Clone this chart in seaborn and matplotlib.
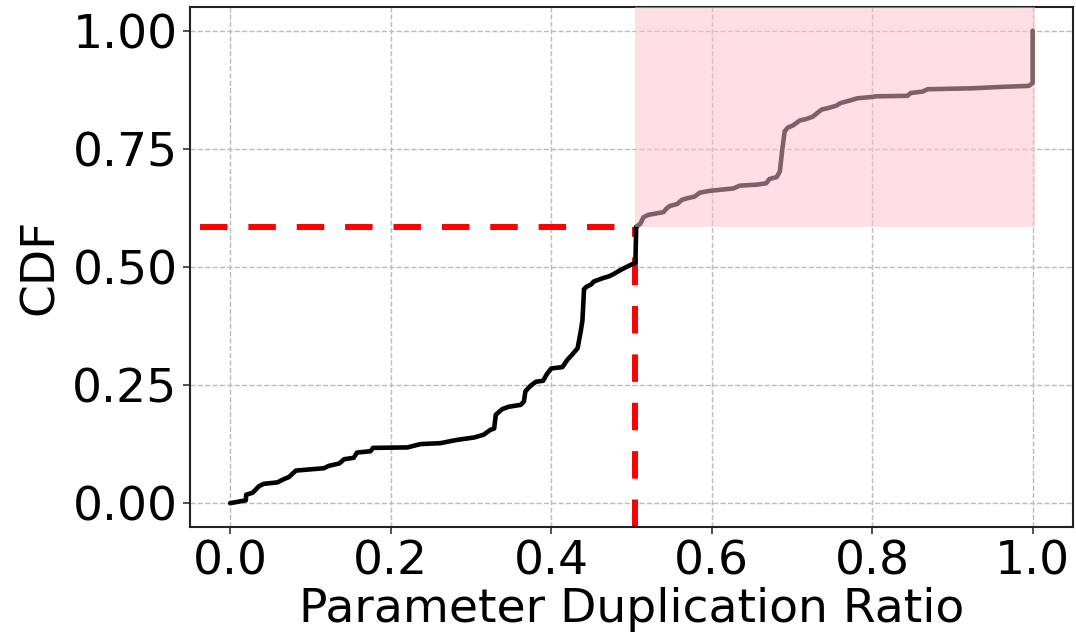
import matplotlib
matplotlib.use("Agg")
import matplotlib.pyplot as plt
import seaborn as sns
import pandas as pd

# CDF curve
ratio = [0.0, 0.0195, 0.020, 0.028, 0.036, 0.042, 0.059, 0.067, 0.073, 0.082,
         0.117, 0.123, 0.136, 0.142, 0.154, 0.158, 0.175, 0.178, 0.221, 0.237,
         0.262, 0.283, 0.304, 0.316, 0.324, 0.329, 0.331, 0.339, 0.347, 0.362,
         0.366, 0.368, 0.374, 0.381, 0.390, 0.395, 0.400, 0.414, 0.420, 0.426,
         0.433, 0.437, 0.439, 0.441, 0.444, 0.450, 0.453, 0.464, 0.472, 0.478,
         0.486, 0.494, 0.505, 0.506,
         0.511, 0.515, 0.521, 0.540, 0.544, 0.548, 0.557, 0.563, 0.569, 0.579,
         0.585, 0.598, 0.627, 0.635, 0.656, 0.668, 0.672, 0.681, 0.685, 0.688,
         0.691, 0.695, 0.701, 0.710, 0.718, 0.726, 0.737, 0.745, 0.755, 0.761,
         0.772, 0.782, 0.796, 0.805, 0.844, 0.848, 0.863, 0.869, 0.925, 0.962,
         0.995, 1.0, 1.0]
cdf = [0.0, 0.006, 0.018, 0.022, 0.036, 0.041, 0.044, 0.051, 0.055, 0.069,
       0.074, 0.079, 0.084, 0.093, 0.096, 0.107, 0.110, 0.117, 0.118, 0.125,
       0.127, 0.134, 0.139, 0.145, 0.155, 0.158, 0.187, 0.199, 0.204, 0.208,
       0.215, 0.237, 0.248, 0.257, 0.259, 0.274, 0.285, 0.288, 0.303, 0.314,
       0.328, 0.365, 0.387, 0.453, 0.458, 0.463, 0.469, 0.476, 0.480, 0.485,
       0.493, 0.500, 0.509, 0.585,
       0.591, 0.605, 0.610, 0.616, 0.624, 0.629, 0.633, 0.642, 0.645, 0.649,
       0.657, 0.661, 0.666, 0.672, 0.674, 0.677, 0.686, 0.690, 0.702, 0.748,
       0.787, 0.795, 0.799, 0.810, 0.813, 0.818, 0.833, 0.836, 0.841, 0.847,
       0.852, 0.857, 0.859, 0.861, 0.862, 0.868, 0.871, 0.876, 0.878, 0.881,
       0.883, 0.889, 1.0]

threshold_x = 0.505
threshold_y = 0.584
xticks = [0.0, 0.2, 0.4, 0.6, 0.8, 1.0]
yticks = [0.0, 0.25, 0.5, 0.75, 1.0]

df = pd.DataFrame({"ratio": ratio, "cdf": cdf})

sns.set_style("ticks")
plt.rcParams["font.family"] = ["DejaVu Sans"]

fig = plt.figure(figsize=(10.76, 6.37), dpi=100)
ax = fig.add_axes([0.1766, 0.173, 0.8204, 0.816])

sns.lineplot(data=df, x="ratio", y="cdf", ax=ax, color="black", linewidth=3.3,
             sort=False, estimator=None, zorder=3)

ax.set_xlim(-0.05, 1.05)
ax.set_ylim(-0.05, 1.05)

# threshold markers
ax.vlines(threshold_x, -0.05, threshold_y, colors="red", linestyles=(0, (4.6, 3.5)),
          linewidth=4.3, zorder=2)
ax.hlines(threshold_y, -0.037, threshold_x, colors="red", linestyles=(0, (4.6, 3.5)),
          linewidth=4.3, zorder=2)

# highlighted region (over the curve)
ymin_frac = (threshold_y + 0.05) / 1.1
ax.axvspan(threshold_x, 1.003, ymin=ymin_frac, ymax=1.0, color="pink", alpha=0.5,
           linewidth=0, zorder=4)

ax.set_xticks(xticks)
ax.set_xticklabels([f"{v:.1f}" for v in xticks])
ax.set_yticks(yticks)
ax.set_yticklabels([f"{v:.2f}" for v in yticks])
ax.tick_params(axis="both", labelsize=34, length=5, width=1.2, color="#333333",
               labelcolor="black", pad=4)

ax.grid(True, linestyle="--", color="#bbbbbb", linewidth=1.0)
ax.set_axisbelow(True)
for s in ax.spines.values():
    s.set_visible(True)
    s.set_linewidth(1.5)
    s.set_color("#222222")

ax.set_xlabel("Parameter Duplication Ratio", fontsize=34, labelpad=2, color="black")
ax.set_ylabel("CDF", fontsize=34, labelpad=7, color="black")

fig.savefig("out.png", dpi=100)
